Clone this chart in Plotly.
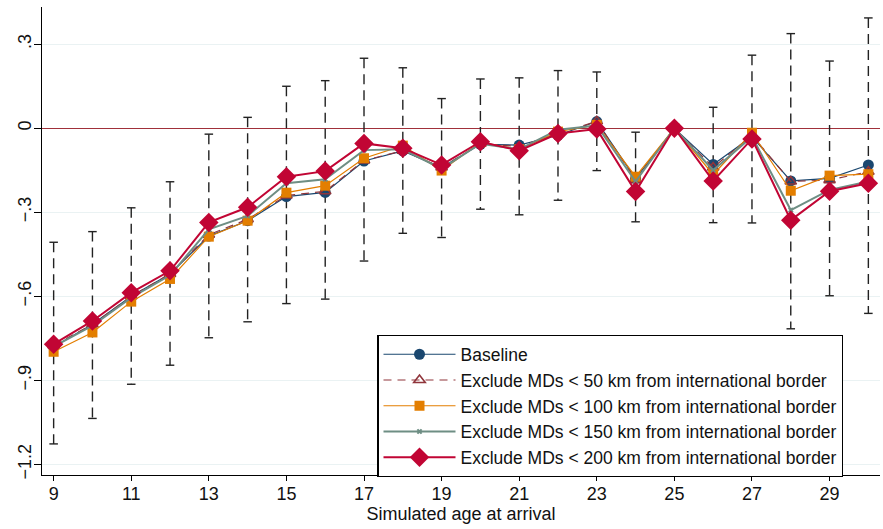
import plotly.graph_objects as go

ages = list(range(9, 31))
baseline = [-0.78, -0.70, -0.60, -0.52, -0.385, -0.33, -0.244, -0.229, -0.117, -0.081, -0.14,
            -0.057, -0.06, -0.025, 0.024, -0.18, 0.0, -0.129, -0.03, -0.188, -0.179, -0.131]
excl50 = [-0.775, -0.70, -0.60, -0.52, -0.38, -0.325, -0.24, -0.225, -0.115, -0.08, -0.14,
          -0.055, -0.065, -0.02, 0.025, -0.185, 0.0, -0.14, -0.025, -0.19, -0.185, -0.155]
excl100 = [-0.798, -0.729, -0.619, -0.538, -0.387, -0.33, -0.23, -0.205, -0.107, -0.062, -0.151,
           -0.05, -0.075, -0.012, 0.012, -0.173, 0.0, -0.165, -0.016, -0.223, -0.169, -0.164]
excl150 = [-0.78, -0.705, -0.605, -0.525, -0.361, -0.313, -0.196, -0.182, -0.078, -0.075, -0.145,
           -0.055, -0.075, -0.005, 0.01, -0.19, 0.0, -0.15, -0.03, -0.292, -0.22, -0.19]
excl200 = [-0.771, -0.688, -0.587, -0.509, -0.336, -0.282, -0.173, -0.153, -0.054, -0.071, -0.131,
           -0.048, -0.08, -0.019, -0.003, -0.226, 0.0, -0.188, -0.038, -0.328, -0.225, -0.196]
ci_hi = [-0.407, -0.369, -0.284, -0.191, -0.021, 0.039, 0.15, 0.170, 0.25, 0.216, 0.106,
         0.176, 0.18, 0.206, 0.201, -0.014, None, 0.075, 0.261, 0.338, 0.24, 0.394]
ci_lo = [-1.127, -1.036, -0.914, -0.846, -0.748, -0.691, -0.626, -0.61, -0.474, -0.375, -0.39,
         -0.289, -0.309, -0.257, -0.151, -0.334, None, -0.337, -0.338, -0.716, -0.598, -0.661]

series_names = [
    "Baseline",
    "Exclude MDs < 50 km from international border",
    "Exclude MDs < 100 km from international border",
    "Exclude MDs < 150 km from international border",
    "Exclude MDs < 200 km from international border",
]
x_ticks = list(range(9, 31, 2))
y_tickvals = [0.3, 0, -0.3, -0.6, -0.9, -1.2]
y_ticktext = [".3", "0", "\u2212.3", "\u2212.6", "\u2212.9", "\u22121.2"]

CAP = 0.11
FONT = "Liberation Sans, Arial, Helvetica, sans-serif"

# CI vertical segments and caps built from data
vx, vy, cx, cy = [], [], [], []
for a, lo, hi in zip(ages, ci_lo, ci_hi):
    if lo is None or hi is None:
        continue
    vx += [a, a, None]
    vy += [hi, lo, None]
    cx += [a - CAP, a + CAP, None, a - CAP, a + CAP, None]
    cy += [hi, hi, None, lo, lo, None]

fig = go.Figure()
fig.add_trace(go.Scatter(x=vx, y=vy, mode="lines", showlegend=False, hoverinfo="skip",
                         line=dict(color="#222222", width=1.4, dash="10px,6px")))
fig.add_trace(go.Scatter(x=cx, y=cy, mode="lines", showlegend=False, hoverinfo="skip",
                         line=dict(color="#222222", width=1.4)))

styles = [
    dict(line=dict(color="#1a476f", width=1.2), marker=dict(symbol="circle", size=11, color="#1a476f")),
    dict(line=dict(color="#90353b", width=1.2, dash="8px,6px"),
         marker=dict(symbol="triangle-up-open", size=10, color="#90353b", line=dict(width=1.6, color="#90353b"))),
    dict(line=dict(color="#e37e00", width=1.2), marker=dict(symbol="square", size=10, color="#e37e00")),
    dict(line=dict(color="#6e8e84", width=2), marker=dict(symbol="x", size=5, color="#6e8e84")),
    dict(line=dict(color="#c10534", width=2), marker=dict(symbol="diamond", size=15, color="#c10534")),
]
for name, vals, st in zip(series_names, [baseline, excl50, excl100, excl150, excl200], styles):
    fig.add_trace(go.Scatter(x=ages, y=vals, mode="lines+markers", name=name, **st))

fig.update_layout(
    width=883, height=529,
    margin=dict(l=42, r=3, t=7, b=54),
    plot_bgcolor="white", paper_bgcolor="white",
    font=dict(family=FONT, size=17, color="#111111"),
    showlegend=True,
    legend=dict(x=0.40, y=0.299, xanchor="left", yanchor="top",
                bgcolor="white", bordercolor="black", borderwidth=1.3,
                font=dict(size=17.5), itemwidth=72, tracegroupgap=0),
    xaxis=dict(range=[8.7, 30.3], tickvals=x_ticks, showgrid=False, zeroline=False,
               showline=True, linecolor="black", linewidth=1.3,
               ticks="outside", ticklen=5, tickcolor="black",
               ticklabelstandoff=-3,
               tickfont=dict(size=18),
               title=dict(text="Simulated age at arrival", font=dict(size=18), standoff=0)),
    yaxis=dict(range=[-1.238, 0.433], tickvals=y_tickvals, ticktext=y_ticktext,
               tickangle=-90, showgrid=True, gridcolor="#eaf2f3", gridwidth=1.2,
               zeroline=True, zerolinecolor="#a0303a", zerolinewidth=1.3,
               showline=True, linecolor="black", linewidth=1.3,
               ticks="outside", ticklen=7, tickcolor="black",
               ticklabelstandoff=-4,
               tickfont=dict(size=18)),
)

fig.write_html("out.html")
